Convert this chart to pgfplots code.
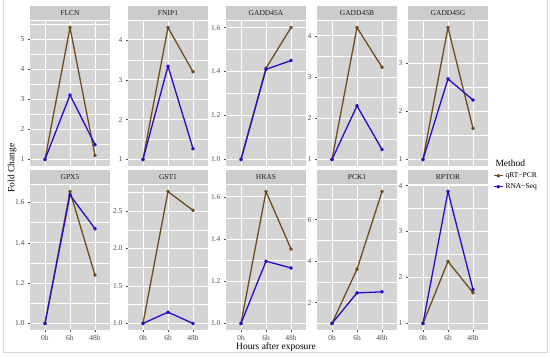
\documentclass[border=0pt]{standalone}
\usepackage{pgfplots}
\pgfplotsset{compat=1.18}
\usepackage{fontspec}
\setmainfont{Liberation Serif}
\definecolor{qrt}{RGB}{110,76,30}
\definecolor{rna}{RGB}{40,10,200}
\definecolor{panelbg}{RGB}{212,212,212}
\definecolor{stripbg}{RGB}{204,204,204}
\definecolor{ticklab}{RGB}{77,77,77}
\definecolor{striptext}{RGB}{26,26,26}
\pgfplotsset{
  facet/.style={
    scale only axis, width=80pt, height=145pt,
    anchor=north west,
    axis background/.style={fill=panelbg},
    axis line style={draw=none},
    xmin=0.4, xmax=3.6, xtick={1,2,3}, xticklabels={0h,6h,48h},
    enlarge y limits=0.05,
    grid=both,
    major grid style={white, line width=0.9pt},
    minor grid style={white, line width=0.45pt},
    tick align=outside, tick pos=left,
    major tick length=2pt, minor tick length=0pt,
    tick style={ticklab, line width=0.4pt},
    ticklabel style={font=\fontsize{7.5}{8.5}\selectfont, color=ticklab},
    /pgf/number format/assume math mode=true,
    clip=false,
    every axis plot/.append style={line width=1.3pt, mark=*, mark size=1.2pt, line join=round},
  },
  toprow/.style={xticklabels={}, xtick style={draw=none}},
}
\newcommand{\facet}[6]{%
  \begin{axis}[facet, at={(#1pt,#2pt)}, #3]
    \addplot[qrt, mark options={fill=qrt}] coordinates {#5};
    \addplot[rna, mark options={fill=rna}] coordinates {#6};
  \end{axis}
  \fill[stripbg] (#1pt,{#2pt+1pt}) rectangle ({#1pt+80pt},{#2pt+15pt});
  \node[font=\fontsize{7.5}{8.5}\selectfont, text=striptext] at ({#1pt+40pt},{#2pt+8pt}) {#4};
}
\begin{document}
\begin{tikzpicture}
\useasboundingbox (0pt,0pt) rectangle (550pt,357pt);
\fill[white] (0pt,0pt) rectangle (550pt,357pt);
\draw[black!15, line width=0.6pt] (3pt,357pt) -- (3pt,5pt) -- (547pt,5pt) -- (547pt,357pt);
% top row (panel top at 336pt)
\facet{30}{336}{toprow, ytick={1,2,3,4,5}, yticklabels={1,2,3,4,5}, minor ytick={1.5,2.5,3.5,4.5,5.5}}{FLCN}
  {(1,1)(2,5.38)(3,1.13)}{(1,1)(2,3.14)(3,1.49)}
\facet{128}{336}{toprow, ytick={1,2,3,4}, yticklabels={1,2,3,4}, minor ytick={1.5,2.5,3.5}}{FNIP1}
  {(1,1)(2,4.31)(3,3.2)}{(1,1)(2,3.34)(3,1.27)}
\facet{226}{336}{toprow, ytick={1,1.2,1.4,1.6}, yticklabels={1.0,1.2,1.4,1.6}, minor ytick={1.1,1.3,1.5}}{GADD45A}
  {(1,1)(2,1.415)(3,1.6)}{(1,1)(2,1.41)(3,1.45)}
\facet{317}{336}{toprow, ytick={1,2,3,4}, yticklabels={1,2,3,4}, minor ytick={1.5,2.5,3.5}}{GADD45B}
  {(1,1)(2,4.2)(3,3.24)}{(1,1)(2,2.3)(3,1.24)}
\facet{408}{336}{toprow, ytick={1,2,3}, yticklabels={1,2,3}, minor ytick={1.5,2.5,3.5},
  legend entries={qRT−PCR,RNA−Seq},
  legend style={at={(1.0625,-0.03)}, anchor=north west, draw=none, fill=none, inner sep=0pt,
    font=\fontsize{7.5}{8.5}\selectfont, row sep=0.5pt, cells={anchor=west}},
  legend image code/.code={\draw[#1, mark=none] (0pt,0pt) -- (9pt,0pt); \draw[#1, only marks] plot coordinates {(4.5pt,0pt)};}}{GADD45G}
  {(1,1)(2,3.75)(3,1.65)}{(1,1)(2,2.68)(3,2.24)}
% bottom row (panel top at 172pt)
\facet{30}{172}{ytick={1,1.2,1.4,1.6}, yticklabels={1.0,1.2,1.4,1.6}, minor ytick={1.1,1.3,1.5}}{GPX5}
  {(1,1)(2,1.654)(3,1.24)}{(1,1)(2,1.637)(3,1.47)}
\facet{128}{172}{ytick={1,1.5,2,2.5}, yticklabels={1.0,1.5,2.0,2.5}, minor ytick={1.25,1.75,2.25,2.75}}{GST1}
  {(1,1)(2,2.76)(3,2.51)}{(1,1)(2,1.15)(3,1.0)}
\facet{226}{172}{ytick={1,1.2,1.4,1.6}, yticklabels={1.0,1.2,1.4,1.6}, minor ytick={1.1,1.3,1.5}}{HRAS}
  {(1,1)(2,1.625)(3,1.353)}{(1,1)(2,1.295)(3,1.263)}
\facet{317}{172}{ytick={2,4,6}, yticklabels={2,4,6}, minor ytick={1,3,5,7}}{PCK1}
  {(1,1)(2,3.61)(3,7.35)}{(1,1)(2,2.47)(3,2.52)}
\facet{408}{172}{ytick={1,2,3,4}, yticklabels={1,2,3,4}, minor ytick={1.5,2.5,3.5}}{RPTOR}
  {(1,1)(2,2.35)(3,1.67)}{(1,1)(2,3.87)(3,1.74)}
% titles
\node[font=\fontsize{9.5}{10.5}\selectfont, text=black] at (276pt,10pt) {Hours after exposure};
\node[font=\fontsize{9.5}{10.5}\selectfont, text=black, rotate=90] at (12pt,189pt) {Fold Change};
\node[font=\fontsize{9.5}{10.5}\selectfont, text=black, anchor=west] at (492pt,194pt) {Method};
\end{tikzpicture}
\end{document}
